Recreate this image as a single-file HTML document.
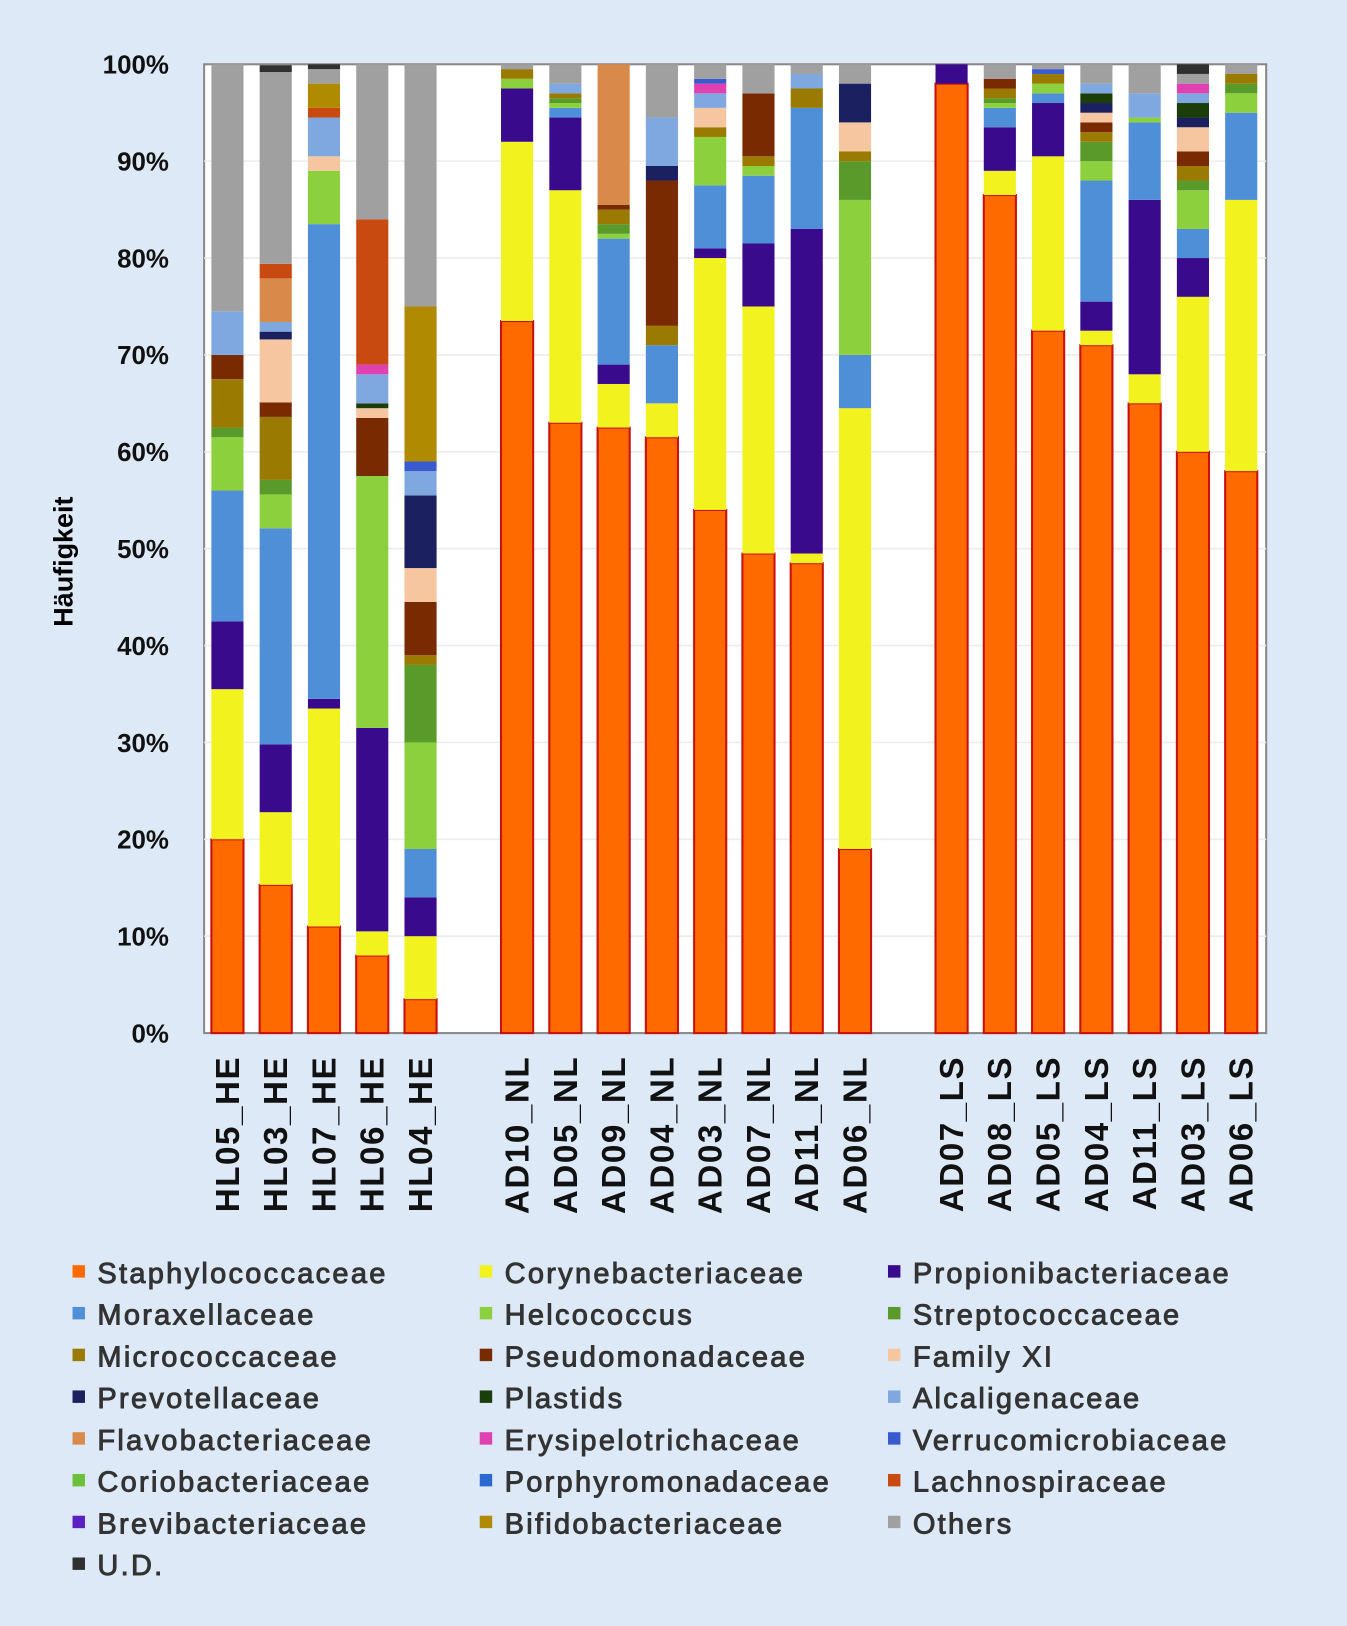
<!DOCTYPE html>
<html><head><meta charset="utf-8"><style>
html,body{margin:0;padding:0;background:#dde9f6;}
svg{display:block;font-family:"Liberation Sans",Arial,sans-serif;}
</style></head><body>
<svg id="chart" width="1347" height="1626" viewBox="0 0 1300 1569.2" xmlns="http://www.w3.org/2000/svg">
<rect x="0" y="0" width="1300" height="1570" fill="#dde9f6"/>
<rect x="197" y="62" width="1025" height="935" fill="#ffffff" stroke="#8a8a8a" stroke-width="2"/>
<g id="grid"></g><g id="bars"></g><g id="yaxis"></g><g id="xaxis"></g><g id="legend"></g>
<text transform="translate(70,542) rotate(-90)" text-anchor="middle" font-size="26" font-weight="bold" fill="#000">Häufigkeit</text>
</svg>
<script>
const categories=["HL05_HE","HL03_HE","HL07_HE","HL06_HE","HL04_HE","","AD10_NL","AD05_NL","AD09_NL","AD04_NL","AD03_NL","AD07_NL","AD11_NL","AD06_NL","","AD07_LS","AD08_LS","AD05_LS","AD04_LS","AD11_LS","AD03_LS","AD06_LS"];
const seriesNames=["Staphylococcaceae","Corynebacteriaceae","Propionibacteriaceae","Moraxellaceae","Helcococcus","Streptococcaceae","Micrococcaceae","Pseudomonadaceae","Family XI","Prevotellaceae","Plastids","Alcaligenaceae","Flavobacteriaceae","Erysipelotrichaceae","Verrucomicrobiaceae","Coriobacteriaceae","Porphyromonadaceae","Lachnospiraceae","Brevibacteriaceae","Bifidobacteriaceae","Others","U.D."];
const seriesColors=["#ff6a00","#f2f21e","#3a0a8c","#4f8fd8","#8cd13d","#5a9a2a","#9a7a00","#7a2a00","#f5c6a0","#1a2060","#1a3d0a","#7fa8e0","#d98a4a","#e040b0","#3a5ad0","#6cc03a","#2a6ad0","#c84a10","#5a20c0","#b08a00","#a0a0a0","#303030"];
// values per sample (%), in series order
const staph=[20,15.3,11,8,3.5,0,73.5,63,62.5,61.5,54,49.5,48.5,19,0,98,86.5,72.5,71,65,60,58];
const coryne=[15.5,7.5,22.5,2.5,6.5,0,18.5,24,4.5,3.5,26,25.5,1,45.5,0,0,2.5,18,1.5,3,16,28];
const propioni=[7,7,1,21,4,0,5.5,7.5,2,0,1,6.5,33.5,0,0,2,4.5,5.5,3,18,4,0];
const moraxella=[13.5,22.3,49,0,5,0,0,1,13,6,6.5,7,12.5,5.5,0,0,2,1,12.5,8,3,9];
const helco=[5.5,3.5,5.5,26,11,0,1,0.5,0.5,0,5,1,0,16,0,0,0.5,1,2,0.5,4,2];
const strepto=[1,1.5,0,0,8,0,0,0.5,1,0,0,0,0,4,0,0,0.5,0,2,0,1,1];
const micrococ=[5,6.5,0,0,1,0,1,0.5,1.5,2,1,1,2,1,0,0,1,1,1,0,1.5,1];
const pseudo=[2.5,1.5,0,6,5.5,0,0,0,0.5,15,0,6.5,0,0,0,0,1,0,1,0,1.5,0];
const familyXI=[0,6.5,1.5,1,3.5,0,0,0,0,0,2,0,0,3,0,0,0,0,1,0,2.5,0];
const prevotella=[0,0.8,0,0,7.5,0,0,0,0,1.5,0,0,0,4,0,0,0,0,1,0,1,0];
const plastids=[0,0,0,0.5,0,0,0,0,0,0,0,0,0,0,0,0,0,0,1,0,1.5,0];
const alcalig=[4.5,1,4,3,2.5,0,0,1,0,5,1.5,0,1.5,0,0,0,0,0,1,2.5,1,0];
const flavo=[0,4.5,0,0,0,0,0,0,14.5,0,0,0,0,0,0,0,0,0,0,0,0,0];
const erysip=[0,0,0,1,0,0,0,0,0,0,1,0,0,0,0,0,0,0,0,0,1,0];
const verruco=[0,0,0,0,1,0,0,0,0,0,0.5,0,0,0,0,0,0,0.5,0,0,0,0];
const corio=[0,0,0,0,0,0,0,0,0,0,0,0,0,0,0,0,0,0,0,0,0,0];
const porphyro=[0,0,0,0,0,0,0,0,0,0,0,0,0,0,0,0,0,0,0,0,0,0];
const lachno=[0,1.5,1,15,0,0,0,0,0,0,0,0,0,0,0,0,0,0,0,0,0,0];
const brevi=[0,0,0,0,0,0,0,0,0,0,0,0,0,0,0,0,0,0,0,0,0,0];
const bifido=[0,0,2.5,0,16,0,0,0,0,0,0,0,0,0,0,0,0,0,0,0,0,0];
const others=[25.5,19.8,1.5,16,25,0,0.5,2,0,5.5,1.5,3,1,2,0,0,1.5,0.5,2,3,1,1];
const undet=[0,0.7,0.5,0,0,0,0,0,0,0,0,0,0,0,0,0,0,0,0,0,1,0];
const yTicks=[0,10,20,30,40,50,60,70,80,90,100];
const seriesValues=[staph,coryne,propioni,moraxella,helco,strepto,micrococ,pseudo,familyXI,prevotella,plastids,alcalig,flavo,erysip,verruco,corio,porphyro,lachno,brevi,bifido,others,undet];

const NS="http://www.w3.org/2000/svg";
const X0=197,X1=1222,Y0=997,Y1=62;
const step=(X1-X0)/categories.length, bw=31, off=7;
const xPos=i=>X0+i*step+off;
const yPos=v=>Y0-(v/100)*(Y0-Y1);
function mk(tag,attrs,parent){const e=document.createElementNS(NS,tag);for(const k in attrs)e.setAttribute(k,attrs[k]);parent.appendChild(e);return e;}
const grid=document.getElementById('grid'),bars=document.getElementById('bars'),ya=document.getElementById('yaxis'),xa=document.getElementById('xaxis'),lg=document.getElementById('legend');
yTicks.forEach(t=>{
  if(t>0&&t<100){const l=mk('line',{x1:X0,x2:X1,y1:yPos(t),y2:yPos(t),stroke:'#ececec','stroke-width':1.5},grid);
  
  }
  const tx=mk('text',{x:163,y:yPos(t)+9,'text-anchor':'end','font-size':25,'font-weight':'bold',fill:'#111'},ya);
  tx.textContent=t+'%';
  
  
});
categories.forEach((c,i)=>{
  if(!c)return;
  let acc=0;
  seriesValues.forEach((arr,s)=>{
    const v=arr[i]; if(!v)return;
    const y2=yPos(acc), y1=yPos(Math.min(100,acc+v));
    const r=mk('rect',{x:xPos(i),y:y1,width:bw,height:y2-y1,fill:seriesColors[s]},bars);
    if(s===0){r.setAttribute('stroke','#c81010');r.setAttribute('stroke-width','2');}
    
    
    acc+=v;
  });
  const t=mk('text',{transform:`translate(${xPos(i)+bw/2+11},1019) rotate(-90)`,'text-anchor':'end','font-size':32,'font-weight':'bold','letter-spacing':1.5,fill:'#111'},xa);
  t.textContent=c;
  
  
});
const legX=[70,463,857];
seriesNames.forEach((n,k)=>{
  const col=k%3,row=Math.floor(k/3);
  const x=legX[col],y=1228+row*40.3;
  const g=mk('g',{},lg);
  
  
  mk('rect',{x:x,y:y-7,width:12,height:12,fill:seriesColors[k]},g);
  const t=mk('text',{x:x+24,y:y+10,'font-size':28,'letter-spacing':2.2,fill:'#333',stroke:'#333','stroke-width':0.9},g);
  t.textContent=n;
});
</script>
</body></html>
